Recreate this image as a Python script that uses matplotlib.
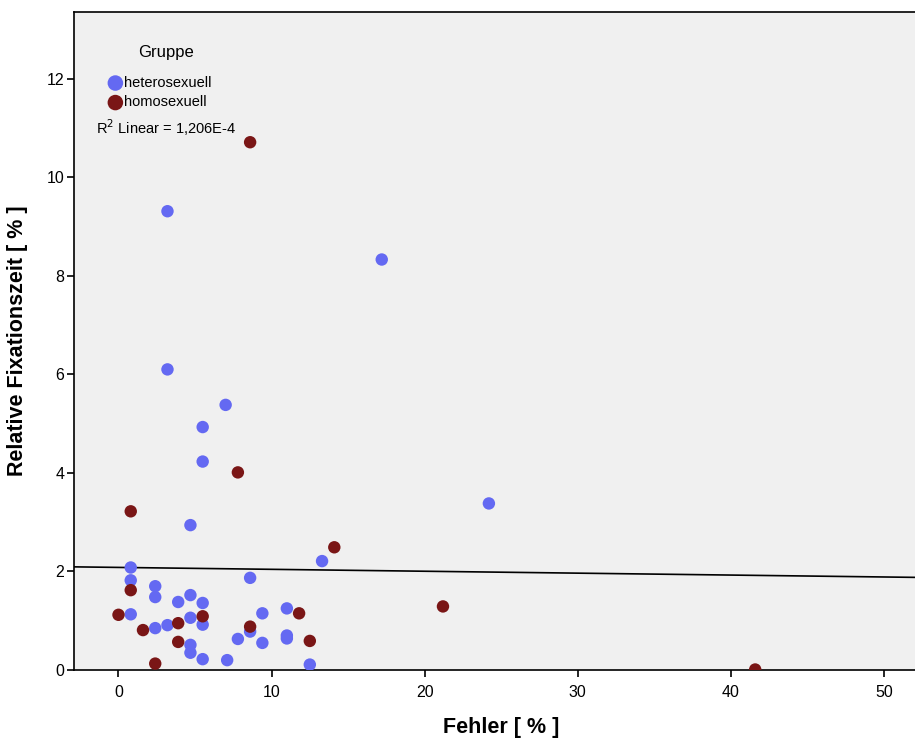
import numpy as np
import matplotlib
matplotlib.use("Agg")
import matplotlib.pyplot as plt

plt.rcParams['font.family'] = ['Liberation Sans', 'DejaVu Sans']

# heterosexuell
hetero_x = [3.2, 17.2, 3.2, 7.0, 5.5, 5.5, 24.2, 4.7, 13.3, 0.8, 0.8, 8.6, 2.4, 2.4,
            4.7, 3.9, 5.5, 0.8, 9.4, 11.0, 4.7, 5.5, 2.4, 3.2, 8.6, 7.8, 11.0, 11.0,
            9.4, 4.7, 4.7, 5.5, 7.1, 12.5]
hetero_y = [9.31, 8.33, 6.1, 5.38, 4.93, 4.23, 3.38, 2.94, 2.21, 2.08, 1.82, 1.87, 1.70, 1.48,
            1.52, 1.38, 1.36, 1.13, 1.15, 1.25, 1.06, 0.92, 0.85, 0.91, 0.78, 0.63, 0.70, 0.64,
            0.55, 0.51, 0.35, 0.22, 0.20, 0.11]

# homosexuell
homo_x = [8.6, 7.8, 0.8, 14.1, 0.8, 0.0, 11.8, 5.5, 3.9, 1.6, 8.6, 3.9, 12.5, 2.4, 21.2, 41.6]
homo_y = [10.71, 4.01, 3.22, 2.49, 1.62, 1.12, 1.15, 1.09, 0.95, 0.81, 0.88, 0.57, 0.59, 0.13, 1.29, 0.01]

r2_text = "R$^2$ Linear = 1,206E-4"

blue = '#6469F2'
brown = '#7A1616'

fig = plt.figure(figsize=(9.15, 7.4), dpi=100)
ax = fig.add_axes([0.081, 0.0946, 0.925, 0.889])
ax.set_facecolor('#F0F0F0')

ax.scatter(hetero_x, hetero_y, s=80, color=blue, edgecolors='none', label='heterosexuell', zorder=3)
ax.scatter(homo_x, homo_y, s=80, color=brown, edgecolors='none', label='homosexuell', zorder=3)

# linear fit over all points
all_x = np.array(hetero_x + homo_x)
all_y = np.array(hetero_y + homo_y)
slope, intercept = np.polyfit(all_x, all_y, 1)
xl = np.array([-3, 53])
ax.plot(xl, intercept + slope * xl, color='black', lw=1.2, zorder=2)

ax.set_xlim(-2.9, 52.4)
ax.set_ylim(0, 13.35)
ax.set_xticks([0, 10, 20, 30, 40, 50])
ax.set_yticks([0, 2, 4, 6, 8, 10, 12])
ax.tick_params(axis='both', direction='out', length=5, width=1.2, labelsize=11.5, colors='black')
ax.tick_params(axis='x', pad=6)
ax.tick_params(axis='y', pad=2)
for side in ['left', 'bottom', 'top']:
    ax.spines[side].set_color('black')
    ax.spines[side].set_linewidth(1.2)
ax.spines['right'].set_visible(False)

ax.set_xlabel('Fehler [ % ]', fontsize=15.5, fontweight='bold')
ax.set_ylabel('Relative Fixationszeit [ % ]', fontsize=15.5, fontweight='bold')
ax.xaxis.set_label_coords(0.505, -0.071)
ax.yaxis.set_label_coords(-0.055, 0.5)

ax.text(0.108, 0.939, 'Gruppe', transform=ax.transAxes, fontsize=12, ha='center', va='center')
leg = ax.legend(loc='upper left', bbox_to_anchor=(0.0315, 0.912), frameon=False,
                fontsize=10.5, handletextpad=0.0, borderaxespad=0,
                labelspacing=0.38, markerscale=1.25, handlelength=1.2)
ax.text(0.026, 0.825, r2_text, transform=ax.transAxes, fontsize=10.5, ha='left', va='center')

fig.savefig('out.png', dpi=100)
